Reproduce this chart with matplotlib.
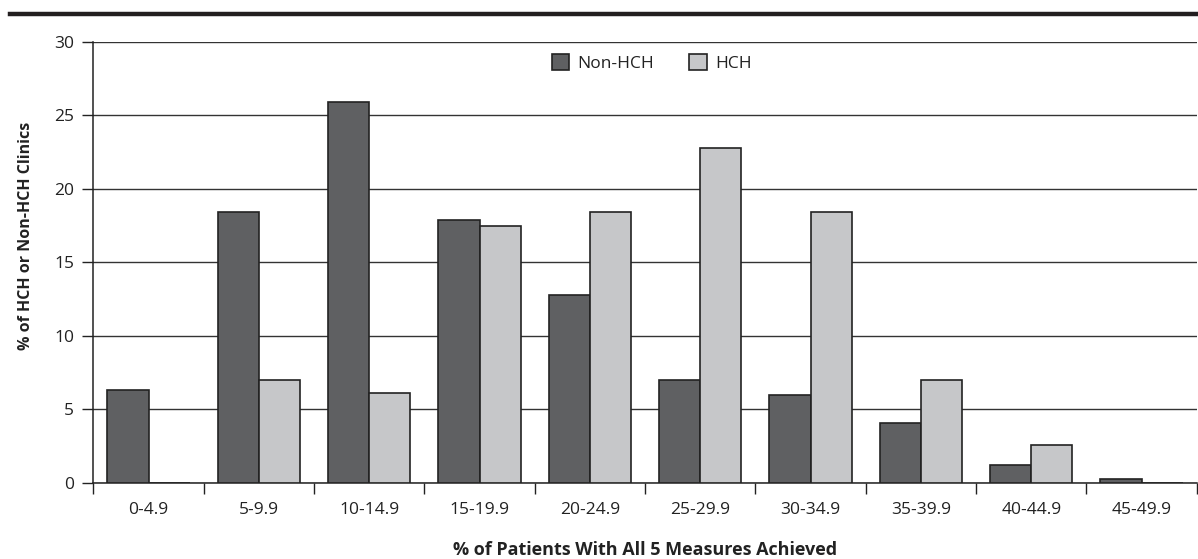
import numpy as np
import matplotlib.pyplot as plt

# data
categories = ['0-4.9', '5-9.9', '10-14.9', '15-19.9', '20-24.9',
              '25-29.9', '30-34.9', '35-39.9', '40-44.9', '45-49.9']
non_hch = [6.3, 18.4, 25.9, 17.9, 12.8, 7.0, 6.0, 4.1, 1.2, 0.25]
hch = [0, 7.0, 6.1, 17.5, 18.4, 22.8, 18.4, 7.0, 2.6, 0]

plt.rcParams['font.family'] = ['Open Sans', 'DejaVu Sans']

fig = plt.figure(figsize=(11.98, 5.59), dpi=100)
ax = fig.add_axes([0.078, 0.136, 0.921, 0.789])

x = np.arange(len(categories))
w = 0.373
ax.bar(x - w/2, non_hch, w, color='#5f6062', edgecolor='#222222',
       linewidth=1.2, label='Non-HCH', zorder=3)
ax.bar(x + w/2, hch, w, color='#c6c7c9', edgecolor='#222222',
       linewidth=1.2, label='HCH', zorder=3)

ax.set_xlim(-0.5, 9.42)
ax.set_ylim(0, 30)
ax.set_yticks(range(0, 31, 5))
ax.yaxis.grid(True, color='#333333', linewidth=1.0, zorder=0)

ax.set_xticks(x)
ax.set_xticklabels(categories, fontsize=12.5, color='#222222')
ax.set_xticks(np.arange(-0.5, 10, 1), minor=True)
ax.tick_params(axis='x', which='major', length=0, pad=14)
ax.tick_params(axis='x', which='minor', length=8, width=1.0, color='#222222')
ax.tick_params(axis='y', length=8, width=1.0, color='#222222',
               labelsize=12.5, labelcolor='#222222', pad=6)

for s in ['top', 'right']:
    ax.spines[s].set_visible(False)
for s in ['left', 'bottom']:
    ax.spines[s].set_color('#222222')
    ax.spines[s].set_linewidth(1.1)

ax.set_xlabel('% of Patients With All 5 Measures Achieved', fontsize=13,
              fontweight='bold', color='#222222', labelpad=16)
ax.set_ylabel('% of HCH or Non-HCH Clinics', fontsize=11.5,
              fontweight='bold', color='#222222')
ax.yaxis.set_label_coords(-0.054, 0.56)

leg = ax.legend(loc='center', bbox_to_anchor=(0.506, 0.952), ncol=2,
                frameon=False, fontsize=12.5, handlelength=1.0,
                handleheight=1.0, columnspacing=2.0, handletextpad=0.5)
for t in leg.get_texts():
    t.set_color('#222222')

# thick rule across the top
fig.add_artist(plt.Line2D([0.008, 1.0], [0.975, 0.975], color='#231f20',
                          linewidth=3.2, transform=fig.transFigure))

fig.savefig('out.png', dpi=100)
